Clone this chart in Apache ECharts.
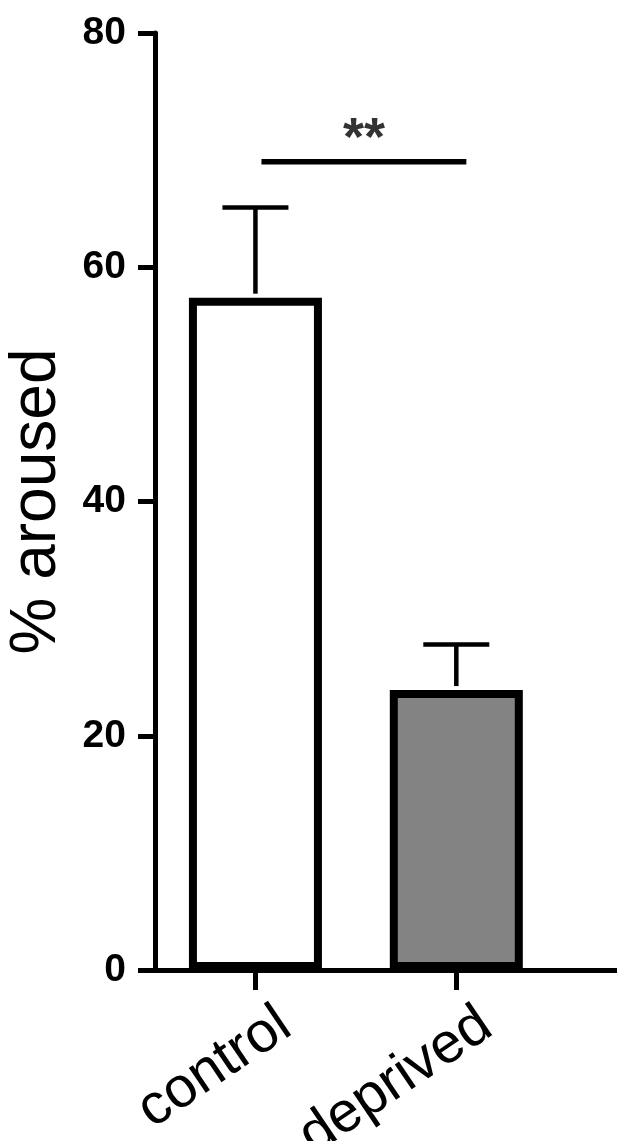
<!DOCTYPE html>
<html>
<head>
<meta charset="utf-8">
<script src="https://cdn.jsdelivr.net/npm/echarts@6/dist/echarts.min.js"></script>
<style>
  html, body { margin: 0; padding: 0; background: #fff; }
  #main { width: 617px; height: 1141px; }
</style>
</head>
<body>
<div id="main"></div>
<script>
// data
var categories = ['control', 'deprived'];
var catPos = [1, 2];
var means = [57.4, 23.9];
var errTop = [65.1, 27.8];
var barColors = ['#ffffff', '#838383'];
var yTicks = [0, 20, 40, 60, 80];
var sigSpan = [1.03, 2.05];
var sigLevel = 69;
var sigText = '**';

var FONT = 'Liberation Sans, Arial, sans-serif';

var chart = echarts.init(document.getElementById('main'));

var barData = catPos.map(function (x, i) {
  return {
    value: [x, means[i]],
    itemStyle: { color: barColors[i], borderColor: '#000', borderWidth: 8 }
  };
});
var errData = catPos.map(function (x, i) { return [x, means[i], errTop[i]]; });

chart.setOption({
  backgroundColor: '#fff',
  animation: false,
  grid: { left: 155, right: 0, top: 33, bottom: 171, containLabel: false, outerBoundsMode: 'none' },
  xAxis: {
    type: 'value',
    min: 0.5,
    max: 2.8,
    splitLine: { show: false },
    axisLine: { show: true, lineStyle: { color: '#000', width: 5 } },
    axisTick: {
      show: true, length: 20, customValues: catPos,
      lineStyle: { color: '#000', width: 5 }
    },
    axisLabel: {
      customValues: catPos.map(function (x) { return x + 0.15; }),
      rotate: 34,
      margin: 50,
      color: '#000',
      fontFamily: FONT,
      fontSize: 57,
      formatter: function (v) { return categories[Math.round(v) - 1] || ''; }
    }
  },
  yAxis: {
    type: 'value',
    min: 0,
    max: 80,
    interval: 20,
    name: '% aroused',
    nameLocation: 'middle',
    nameGap: 86,
    nameTextStyle: { fontFamily: FONT, fontSize: 64, color: '#000' },
    splitLine: { show: false },
    axisLine: { show: true, lineStyle: { color: '#000', width: 5 } },
    axisTick: { show: true, length: 17, lineStyle: { color: '#000', width: 5 } },
    axisLabel: {
      margin: 29,
      color: '#000',
      fontFamily: FONT,
      fontWeight: 'bold',
      fontSize: 39,
      formatter: function (v) { return yTicks.indexOf(v) >= 0 ? String(v) : ''; }
    }
  },
  series: [
    {
      type: 'bar',
      barWidth: 133,
      data: barData,
      z: 2
    },
    {
      type: 'custom',
      data: errData,
      z: 3,
      renderItem: function (params, api) {
        var base = api.coord([api.value(0), api.value(1)]);
        var top = api.coord([api.value(0), api.value(2)]);
        var half = 33;
        var st = { stroke: '#000', lineWidth: 4.5 };
        return {
          type: 'group',
          children: [
            { type: 'line', shape: { x1: base[0], y1: base[1] - 4, x2: top[0], y2: top[1] }, style: st },
            { type: 'line', shape: { x1: top[0] - half, y1: top[1], x2: top[0] + half, y2: top[1] }, style: st }
          ]
        };
      }
    },
    {
      type: 'line',
      data: sigSpan.map(function (x) { return [x, sigLevel]; }),
      symbol: 'none',
      lineStyle: { color: '#000', width: 5.5 },
      z: 3
    },
    {
      type: 'scatter',
      data: [[(sigSpan[0] + sigSpan[1]) / 2, sigLevel]],
      symbolSize: 1,
      itemStyle: { color: 'rgba(0,0,0,0)' },
      label: {
        show: true,
        position: 'top',
        distance: -6,
        formatter: sigText,
        color: '#000',
        fontFamily: FONT,
        fontWeight: 'bold',
        fontSize: 54
      }
    }
  ]
});
</script>
</body>
</html>
